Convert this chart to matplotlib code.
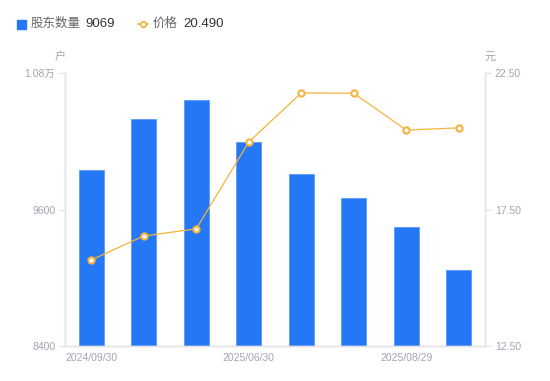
import matplotlib.pyplot as plt
import numpy as np

plt.rcParams['font.family'] = ['Liberation Sans', 'Noto Sans CJK SC', 'DejaVu Sans']

### DATA ###
dates = ['2024/09/30', '2024/12/31', '2025/03/31', '2025/06/30',
         '2025/07/20', '2025/08/10', '2025/08/29', '2025/09/10']
holders = [9947, 10396, 10563, 10193, 9912, 9701, 9446, 9069]
price = [15.65, 16.53, 16.79, 19.97, 21.77, 21.76, 20.41, 20.49]
left_ticks = [8400, 9600, 10800]
left_labels = ['8400', '9600', '1.08万']
right_ticks = [12.5, 17.5, 22.5]
right_labels = ['12.50', '17.50', '22.50']

blue = '#2578f5'
orange = '#f7b23b'
gray_txt = '#a3a3b3'
axis_col = '#e3e3e8'

fig = plt.figure(figsize=(5.5, 3.81), dpi=100)
ax = fig.add_axes([65/550, 35/381, 420/550, 273/381])
ax2 = ax.twinx()

x = np.arange(len(dates))
ax.bar(x, holders, width=0.476, color=blue, edgecolor='#5c9af7', linewidth=0.6, zorder=2)
ax.set_xlim(-0.5, len(dates) - 0.5)
ax.set_ylim(8400, 10800)
ax.set_yticks(left_ticks)
ax.set_yticklabels(left_labels)
ax.set_xticks(x[::3])
ax.set_xticklabels(dates[::3])

ax2.plot(x, price, color=orange, linewidth=0.9, marker='o', markersize=4.5,
         markerfacecolor='white', markeredgecolor=orange, markeredgewidth=1.5, zorder=3)
ax2.set_ylim(12.5, 22.5)
ax2.set_yticks(right_ticks)
ax2.set_yticklabels(right_labels)

for a in (ax, ax2):
    for s in a.spines.values():
        s.set_color(axis_col)
        s.set_linewidth(1)
    a.spines['top'].set_visible(False)
    a.tick_params(colors=gray_txt, labelsize=7.5, length=4, width=1, color=axis_col, pad=3)
ax.tick_params(axis='x', length=0, pad=5)

fig.text(60/550, 1 - 57/381, '户', color=gray_txt, fontsize=8, ha='center', va='center')
fig.text(490/550, 1 - 57/381, '元', color=gray_txt, fontsize=8, ha='center', va='center')

# legend
fig.patches.append(plt.Rectangle((17/550, 1 - 29/381), 9/550, 9/381, transform=fig.transFigure,
                                 color=blue, figure=fig))
fig.text(31/550, 1 - 24/381, '股东数量', color='#666666', fontsize=9, va='center')
fig.text(85/550, 1 - 24/381, '9069', color='#333333', fontsize=9.5, va='center')
fig.lines.append(plt.Line2D([138/550, 143/550, 148/550], [1 - 24/381] * 3,
                            transform=fig.transFigure,
                            color=orange, linewidth=1.2, marker='o', markersize=4,
                            markerfacecolor='white', markeredgewidth=1.3, markevery=[1], figure=fig))
fig.text(153/550, 1 - 24/381, '价格', color='#666666', fontsize=9, va='center')
fig.text(183/550, 1 - 24/381, '20.490', color='#333333', fontsize=9.5, va='center')

fig.savefig('out.png', dpi=100)
